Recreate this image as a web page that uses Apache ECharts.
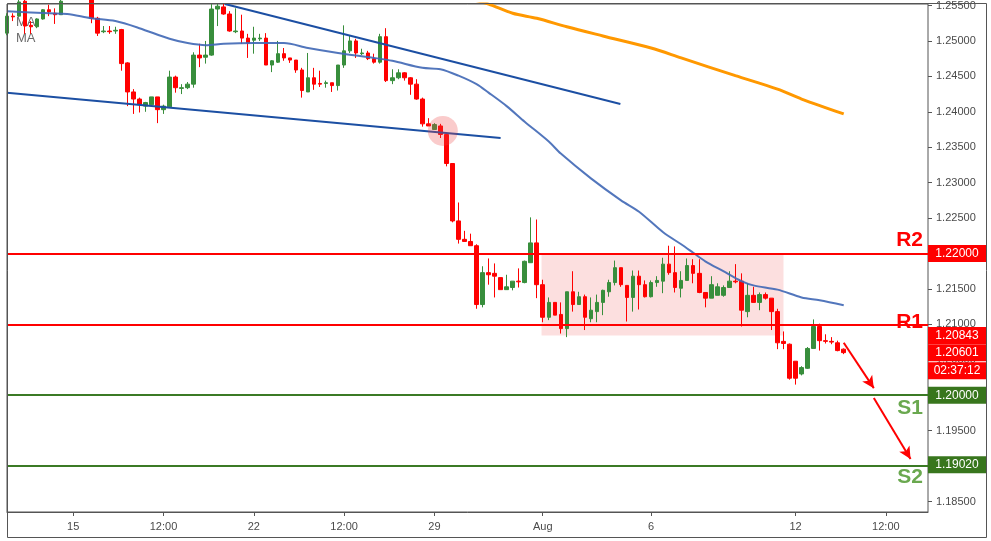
<!DOCTYPE html>
<html><head><meta charset="utf-8">
<script src="https://cdn.jsdelivr.net/npm/echarts@6/dist/echarts.min.js"></script>
<style>html,body{margin:0;padding:0;background:#fff}#c{width:991px;height:541px}</style>
</head><body><div id="c"></div>
<script>
// ---- data ----
const SLOT_COUNT = 154;
const categories = Array.from({length: SLOT_COUNT}, (_, i) => String(i));
const xTickLabels = {11:'15', 26:'12:00', 41:'22', 56:'12:00', 71:'29', 89:'Aug', 107:'6', 131:'12', 146:'12:00'};
const yTickValues = [1.185,1.19,1.195,1.2,1.205,1.21,1.215,1.22,1.225,1.23,1.235,1.24,1.245,1.25,1.255];
// [open, close, low, high]
const ohlc = [
[1.2511,1.2535,1.2508,1.2539],[1.2535,1.2534,1.2528,1.2539],[1.2535,1.2555,1.2534,1.2559],[1.2556,1.2521,1.2510,1.2560],
[1.2522,1.2520,1.2510,1.2528],[1.2520,1.2531,1.2518,1.2532],[1.2531,1.2544,1.2530,1.2545],[1.2544,1.2541,1.2535,1.2551],
[1.2539,1.2537,1.2524,1.2546],[1.2537,1.2556,1.2537,1.2560],[1.2556,1.2568,1.2555,1.2572],[1.2568,1.2576,1.2563,1.2582],
[1.2576,1.2567,1.2562,1.2580],[1.2567,1.2559,1.2555,1.2572],[1.2559,1.2532,1.2525,1.2562],[1.2532,1.2511,1.2507,1.2534],
[1.2513,1.2514,1.2511,1.2521],[1.2514,1.2513,1.2510,1.2521],[1.2514,1.2515,1.2510,1.2520],[1.2516,1.2468,1.2458,1.2517],
[1.2469,1.2428,1.2408,1.2470],[1.2428,1.2418,1.2397,1.2432],[1.2418,1.2410,1.2399,1.2420],[1.2408,1.2413,1.2400,1.2414],
[1.2410,1.2421,1.2410,1.2421],[1.2421,1.2403,1.2384,1.2421],[1.2403,1.2408,1.2397,1.2410],[1.2407,1.2449,1.2406,1.2458],
[1.2449,1.2434,1.2427,1.2451],[1.2433,1.2434,1.2425,1.2439],[1.2434,1.2439,1.2432,1.2442],[1.2439,1.2480,1.2434,1.2484],
[1.2480,1.2476,1.2463,1.2496],[1.2477,1.2480,1.2468,1.2500],[1.2480,1.2545,1.2479,1.2552],[1.2545,1.2549,1.2521,1.2553],
[1.2548,1.2538,1.2537,1.2553],[1.2538,1.2514,1.2513,1.2542],[1.2513,1.2514,1.2511,1.2546],[1.2514,1.2504,1.2496,1.2537],
[1.2504,1.2497,1.2476,1.2510],[1.2501,1.2504,1.2482,1.2520],[1.2503,1.2504,1.2500,1.2510],[1.2504,1.2466,1.2466,1.2511],
[1.2466,1.2472,1.2456,1.2473],[1.2470,1.2482,1.2469,1.2500],[1.2482,1.2476,1.2472,1.2490],[1.2476,1.2473,1.2469,1.2476],
[1.2473,1.2459,1.2455,1.2473],[1.2459,1.2430,1.2420,1.2462],[1.2428,1.2448,1.2428,1.2483],[1.2448,1.2439,1.2431,1.2462],
[1.2440,1.2439,1.2435,1.2458],[1.2440,1.2441,1.2434,1.2444],[1.2441,1.2437,1.2428,1.2441],[1.2437,1.2466,1.2430,1.2466],
[1.2466,1.2486,1.2462,1.2522],[1.2486,1.2500,1.2483,1.2507],[1.2500,1.2483,1.2476,1.2503],[1.2482,1.2483,1.2480,1.2489],
[1.2483,1.2475,1.2473,1.2486],[1.2475,1.2470,1.2468,1.2482],[1.2470,1.2506,1.2468,1.2510],[1.2506,1.2444,1.2442,1.2518],
[1.2444,1.2448,1.2439,1.2460],[1.2448,1.2455,1.2446,1.2460],[1.2455,1.2448,1.2444,1.2456],[1.2448,1.2439,1.2424,1.2449],
[1.2439,1.2418,1.2417,1.2446],[1.2418,1.2383,1.2379,1.2420],[1.2383,1.2380,1.2380,1.2391],[1.2375,1.2382,1.2375,1.2384],
[1.2380,1.2368,1.2363,1.2383],[1.2368,1.2327,1.2323,1.2369],[1.2327,1.2246,1.2244,1.2327],[1.2246,1.2220,1.2214,1.2272],
[1.2220,1.2217,1.2217,1.2232],[1.2217,1.2211,1.2211,1.2228],[1.2211,1.2128,1.2122,1.2213],[1.2128,1.2173,1.2124,1.2182],
[1.2173,1.2170,1.2156,1.2193],[1.2172,1.2168,1.2138,1.2186],[1.2166,1.2149,1.2149,1.2166],[1.2149,1.2153,1.2149,1.2170],
[1.2152,1.2161,1.2148,1.2161],[1.2161,1.2160,1.2152,1.2179],[1.2159,1.2189,1.2158,1.2190],[1.2187,1.2215,1.2187,1.2251],
[1.2215,1.2156,1.2137,1.2248],[1.2156,1.2110,1.2103,1.2163],[1.2110,1.2131,1.2106,1.2138],[1.2131,1.2113,1.2113,1.2131],
[1.2114,1.2094,1.2087,1.2131],[1.2094,1.2146,1.2082,1.2146],[1.2146,1.2128,1.2118,1.2175],[1.2128,1.2139,1.2128,1.2146],
[1.2139,1.2110,1.2092,1.2142],[1.2108,1.2120,1.2103,1.2138],[1.2118,1.2131,1.2103,1.2142],[1.2131,1.2148,1.2113,1.2149],
[1.2146,1.2159,1.2139,1.2163],[1.2159,1.2180,1.2155,1.2190],[1.2180,1.2156,1.2153,1.2180],[1.2155,1.2138,1.2104,1.2155],
[1.2138,1.2168,1.2118,1.2176],[1.2168,1.2156,1.2121,1.2176],[1.2156,1.2139,1.2138,1.2162],[1.2139,1.2159,1.2138,1.2162],
[1.2159,1.2162,1.2153,1.2168],[1.2161,1.2185,1.2144,1.2194],[1.2185,1.2173,1.2170,1.2211],[1.2173,1.2152,1.2145,1.2210],
[1.2151,1.2162,1.2138,1.2175],[1.2162,1.2183,1.2162,1.2193],[1.2183,1.2172,1.2158,1.2192],[1.2172,1.2145,1.2144,1.2192],
[1.2145,1.2137,1.2124,1.2145],[1.2137,1.2156,1.2137,1.2168],[1.2141,1.2153,1.2141,1.2158],[1.2141,1.2152,1.2139,1.2155],
[1.2152,1.2161,1.2152,1.2175],[1.2161,1.2160,1.2158,1.2185],[1.2161,1.2120,1.2097,1.2172],[1.2118,1.2141,1.2110,1.2158],
[1.2141,1.2131,1.2131,1.2153],[1.2131,1.2142,1.2120,1.2145],[1.2142,1.2137,1.2135,1.2145],[1.2137,1.2118,1.2092,1.2137],
[1.2118,1.2074,1.2065,1.2122],[1.2076,1.2073,1.2065,1.2090],[1.2072,1.2024,1.2022,1.2073],[1.2048,1.2024,1.2015,1.2048],
[1.2030,1.2039,1.2028,1.2041],[1.2038,1.2066,1.2037,1.2068],[1.2066,1.2097,1.2066,1.2107],[1.2097,1.2077,1.2063,1.2101],
[1.2077,1.2076,1.2073,1.2086],[1.2076,1.2075,1.2072,1.2082],[1.2074,1.2063,1.2062,1.2077],[1.2065,1.20601,1.2058,1.2066]
];
const maFast = [[0,1.2542],[7,1.2539],[10,1.2538],[14,1.2532],[18,1.2528],[22,1.2518],[27,1.2503],[30,1.2497],[33,1.2494],
[36,1.2496],[41,1.2497],[46,1.2497],[50,1.2490],[55,1.2483],[61,1.2476],[64,1.2472],[69,1.2462],[72,1.2460],[75,1.2451],
[78,1.2439],[80,1.2427],[83,1.2408],[86,1.2386],[90,1.2358],[92,1.2341],[97,1.2306],[102,1.2275],[105,1.2259],[109,1.2230],
[112,1.2213],[114,1.2201],[116,1.2189],[119,1.2175],[122,1.2161],[124,1.2155],[128,1.2149],[132,1.2138],[135,1.2134],[139,1.2127]];
const maSlow = [[77,1.2559],[80,1.2552],[84,1.2539],[88,1.2532],[93,1.2520],[99,1.2507],[107,1.2490],[112,1.2476],
[121,1.2451],[128,1.2432],[132,1.2418],[139,1.2397]];
const trendUpper = [[36.2,1.2552],[101.9,1.2411]];
const trendLower = [[0,1.2427],[82,1.2363]];
const levelNames = ['R2','R1','S1','S2'];
const levelValues = [1.22000, 1.20843, 1.20000, 1.19020];
const zoneCorners = [[88.8,1.22000],[129,1.20843]];
const breakPoint = [72.4,1.2373];
const arrowSegments = [[[139,1.2074],[144,1.2010]],[[144,1.1996],[150.1,1.1910]]];
const lastPrice = 1.20601;
const countdown = '02:37:12';

// ---- styles ----
const RED = '#ff0000', GREEN_UP = '#388e3c', LEVEL_GREEN = '#3b7a25', LABEL_GREEN = '#6aa84f', BOX_GREEN = '#38761d';
const levelColor = n => n[0] === 'R' ? RED : LEVEL_GREEN;

const chart = echarts.init(document.getElementById('c'));
const option = {
  animation: false,
  backgroundColor: '#fff',
  grid: {left: 7, right: 63, top: 3, bottom: 29, show: true, borderColor: '#555', borderWidth: 1},
  xAxis: [{
    type: 'category', data: categories, boundaryGap: false,
    axisLine: {show: true, onZero: false, lineStyle: {color: '#555'}},
    axisTick: {show: true, length: 4, lineStyle: {color: '#555'}, interval: (i) => (i in xTickLabels)},
    axisLabel: {interval: (i) => (i in xTickLabels), formatter: (v, i) => xTickLabels[i] || '', color: '#4a4a4a', fontSize: 11, margin: 9, fontFamily: 'Liberation Sans, Arial, sans-serif'},
    splitLine: {show: false}
  }, {
    type: 'value', min: 0, max: SLOT_COUNT - 1, show: false
  }],
  yAxis: [{
    type: 'value', position: 'right', min: 1.18352, max: 1.25521, scale: true,
    axisLine: {show: false, onZero: false},
    splitLine: {show: false},
    axisTick: {show: true, inside: false, length: 4, lineStyle: {color: '#555'}, customValues: yTickValues},
    axisLabel: {customValues: yTickValues, formatter: v => v.toFixed(5), color: '#4a4a4a', fontSize: 11, margin: 8, fontFamily: 'Liberation Sans, Arial, sans-serif'}
  }],
  series: [
    {
      type: 'candlestick', xAxisIndex: 0, yAxisIndex: 0, data: ohlc, barWidth: 4, clip: true, z: 2,
      itemStyle: {color: GREEN_UP, color0: RED, borderColor: GREEN_UP, borderColor0: RED, borderWidth: 1}
    },
    {
      type: 'line', xAxisIndex: 1, data: maFast, smooth: 0.3, showSymbol: false, clip: true, z: 4,
      lineStyle: {color: '#3f67b5', width: 2, opacity: 0.9}
    },
    {
      type: 'line', xAxisIndex: 1, data: maSlow, smooth: 0.3, showSymbol: false, clip: true, z: 4,
      lineStyle: {color: '#ff9800', width: 3}
    },
    {
      type: 'line', xAxisIndex: 1, data: trendUpper, showSymbol: false, clip: true, z: 4,
      lineStyle: {color: '#1c4fa3', width: 2}
    },
    {
      type: 'line', xAxisIndex: 1, data: trendLower, showSymbol: false, clip: true, z: 4,
      lineStyle: {color: '#1c4fa3', width: 2},
      markLine: {
        silent: true, symbol: 'none', label: {show: false}, animation: false,
        data: levelValues.map((v, k) => ({yAxis: v, lineStyle: {color: levelColor(levelNames[k]), width: 2, type: 'solid'}}))
      },
      markArea: {
        silent: true, itemStyle: {color: 'rgba(242,96,96,0.2)'},
        data: [[{coord: zoneCorners[0]}, {coord: zoneCorners[1]}]]
      }
    },
    {
      type: 'scatter', xAxisIndex: 1, data: [breakPoint], symbolSize: 30, silent: true, z: 6,
      itemStyle: {color: 'rgba(238,70,70,0.35)'}
    },
    {
      type: 'line', xAxisIndex: 1, data: [], z: 7,
      markLine: {
        silent: true, symbol: ['none', 'arrow'], symbolSize: [9, 12], label: {show: false},
        lineStyle: {color: RED, width: 2, type: 'solid'},
        data: arrowSegments.map(s => [{coord: s[0]}, {coord: s[1]}])
      }
    }
  ]
};
chart.setOption(option);

// ---- annotations positioned through the axis scale ----
const py = v => chart.convertToPixel({yAxisIndex: 0}, v);
const g = [];
g.push({type: 'rect', z: 20, silent: true, shape: {x: 7.5, y: 3.5, width: 979, height: 534}, style: {fill: 'none', stroke: '#555', lineWidth: 1}});
g.push({type: 'text', z: 0, style: {text: 'MA', x: 16, y: 22, font: '13px Arial', fill: '#6b6b6b', textVerticalAlign: 'middle'}});
g.push({type: 'text', z: 0, style: {text: 'MA', x: 16, y: 38, font: '13px Arial', fill: '#6b6b6b', textVerticalAlign: 'middle'}});
function box(yc, text, fill) {
  g.push({type: 'rect', z: 30, silent: true, shape: {x: 928, y: yc - 8.5, width: 58, height: 17}, style: {fill: fill}});
  g.push({type: 'text', z: 31, silent: true, style: {text: text, x: 957, y: yc + 0.5, textAlign: 'center', textVerticalAlign: 'middle', font: '12px Arial', fill: '#fff'}});
}
levelValues.forEach((v, k) => {
  const name = levelNames[k];
  const y = py(v);
  const isR = name[0] === 'R';
  g.push({type: 'text', z: 30, silent: true, style: {text: name, x: 923, y: isR ? y - 13 : y + 13, textAlign: 'right', textVerticalAlign: 'middle', font: 'bold 21px Arial', fill: isR ? RED : LABEL_GREEN}});
  box(y, v.toFixed(5), isR ? RED : BOX_GREEN);
});
const yl = py(lastPrice);
box(yl, lastPrice.toFixed(5), RED);
box(yl + 18, countdown, RED);
chart.setOption({graphic: {elements: g}});
</script>
</body></html>
